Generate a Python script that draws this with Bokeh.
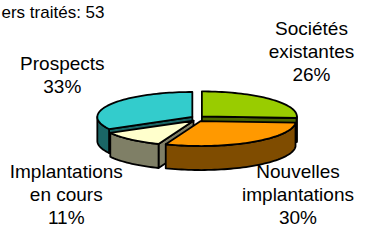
import math
from bokeh.plotting import figure
from bokeh.models import Range1d
from bokeh.embed import file_html
from bokeh.resources import INLINE
from bokeh.core.properties import value

# ---- data ----
names = [["Sociétés", "existantes"], ["Nouvelles", "implantations"],
         ["Implantations", "en cours"], ["Prospects"]]
percents = [26, 30, 11, 33]
total_text = "ers traités: 53"   # part of the title visible in the reference

# ---- styles ----
top_colors = ["#99CC00", "#FF9900", "#FFFFCC", "#33CCCC"]
side_colors = ["#4C6600", "#7F4C00", "#7F7F66", "#1A6666"]
FONT = "Liberation Sans"
FS = 19
LS = 23

W, H = 358, 230
p = figure(width=W, height=H, x_range=Range1d(0, W), y_range=Range1d(H, 0),
           output_backend="svg", toolbar_location=None, min_border=0)
p.axis.visible = False
p.grid.visible = False
p.outline_line_color = None
p.background_fill_color = "white"

# ---- pie geometry (layout) ----
CX, CY, RX, RY, DEPTH, EXPL = 197, 118, 95, 25, 24, 6


def rim(cx, cy, th, dy=0.0):
    r = math.radians(th)
    return cx + RX * math.sin(r), cy - RY * math.cos(r) + dy


def arc(cx, cy, a, b, dy=0.0):
    n = max(2, int(abs(b - a) / 2) + 1)
    pts = [rim(cx, cy, a + (b - a) * i / (n - 1), dy) for i in range(n)]
    return [q[0] for q in pts], [q[1] for q in pts]


total = sum(percents)
slices = []
acc = 0.0
for i, v in enumerate(percents):
    a = acc / total * 360
    acc += v
    b = acc / total * 360
    mid = (a + b) / 2
    s, c = math.sin(math.radians(mid)), math.cos(math.radians(mid))
    cx = CX + EXPL * s
    cy = CY - EXPL * c * 0.5
    slices.append(dict(i=i, a=a, b=b, mid=mid, cx=cx, cy=cy, s=s, c=c))

xs, ys, fills = [], [], []
for sl in sorted(slices, key=lambda d: -d["c"]):
    a, b, cx, cy, i = sl["a"], sl["b"], sl["cx"], sl["cy"], sl["i"]
    # radial cut faces that face the viewer
    for phi, normal in ((a, a - 90), (b, b + 90)):
        if math.cos(math.radians(normal)) < -1e-6:
            rx_, ry_ = rim(cx, cy, phi)
            xs.append([cx, rx_, rx_, cx])
            ys.append([cy, ry_, ry_ + DEPTH, cy + DEPTH])
            fills.append(side_colors[i])
    # outer wall (front part)
    lo, hi = max(a, 90), min(b, 270)
    if hi > lo:
        tx, ty = arc(cx, cy, lo, hi)
        bx, by = arc(cx, cy, lo, hi, DEPTH)
        xs.append(tx + bx[::-1])
        ys.append(ty + by[::-1])
        fills.append(side_colors[i])
    # top
    tx, ty = arc(cx, cy, a, b)
    xs.append([cx] + tx)
    ys.append([cy] + ty)
    fills.append(top_colors[i])

p.patches(xs, ys, fill_color=fills, line_color="black", line_width=1.8,
          line_join="round")

# ---- labels ----
LRX, LRY = 110, 63
lx, ly, lt = [], [], []
for sl in slices:
    i, s, c = sl["i"], sl["s"], sl["c"]
    lines = names[i] + [f"{percents[i]}%"]
    w = max(len(t) for t in lines) * 9.0
    h = len(lines) * LS
    px = CX + LRX * s
    py = CY - LRY * c + (DEPTH * 0.6 if c < 0 else 0)
    bx = px + math.copysign(w / 2, s)
    by = py - c * h / 2
    bx = min(max(bx, w / 2 + 2), W - w / 2 - 2)
    half = (len(lines) - 1) / 2 * LS
    by = min(max(by, half + 14), H - 13 - half)
    for k, t in enumerate(lines):
        lx.append(bx)
        ly.append(by + (k - (len(lines) - 1) / 2) * LS)
        lt.append(t)

p.text(lx, ly, text=lt, text_font=value(FONT), text_font_size=f"{FS}px",
       text_align="center", text_baseline="middle", text_color="black")

p.text([1], [12], text=[total_text], text_font=value(FONT), text_font_size="17px",
       text_align="left", text_baseline="middle", text_color="black")

open("out.html", "w").write(file_html(p, INLINE))
